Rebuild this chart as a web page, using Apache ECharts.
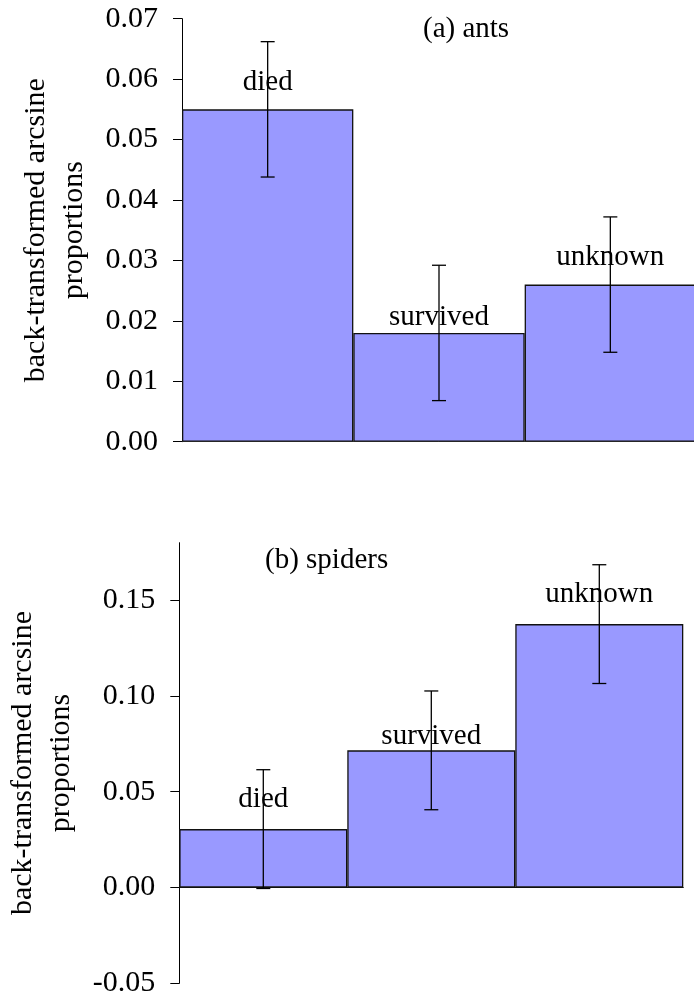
<!DOCTYPE html>
<html>
<head>
<meta charset="utf-8">
<style>
  html, body { margin: 0; padding: 0; background: #fff; }
  #chart { width: 694px; height: 1002px; }
</style>
<script src="https://cdn.jsdelivr.net/npm/echarts@6/dist/echarts.min.js"></script>
</head>
<body>
<div id="chart"></div>
<script>
// Fate categories shared by both panels
const categories = ['died', 'survived', 'unknown'];

// (a) ants: back-transformed arcsine proportions and error half-widths
const antsMeans = [0.055, 0.018, 0.026];
const antsErrors = [0.0112, 0.0112, 0.0112];

// (b) spiders
const spiderMeans = [0.0305, 0.0716, 0.1375];
const spiderErrors = [0.031, 0.031, 0.031];

// Tick values shown on each y axis
const antsTicks = [0, 0.01, 0.02, 0.03, 0.04, 0.05, 0.06, 0.07];
const spiderTicks = [-0.05, 0, 0.05, 0.10, 0.15];

const panelTitles = ['(a) ants', '(b) spiders'];
const yTitle = 'back-transformed arcsine\nproportions';

const FONT = '"Liberation Serif", "Times New Roman", Times, serif';
const BAR_FILL = '#9999ff';

// How far each category label sits above its bar, per panel
const labelLift = [[12, 1, 13], [15, -1, 15]];

function yAxisFor(gridIndex, min, max, interval, ticks, nameGap) {
  return {
    type: 'value',
    gridIndex,
    min, max, interval,
    name: yTitle,
    nameLocation: 'middle',
    nameRotate: 90,
    nameGap,
    nameTextStyle: { fontFamily: FONT, fontSize: 30, color: '#000', lineHeight: 38 },
    axisLine: { show: true, lineStyle: { color: '#000', width: 1 } },
    axisTick: { show: true, inside: false, length: 9, lineStyle: { color: '#000', width: 1 }, customValues: ticks },
    axisLabel: {
      fontFamily: FONT, fontSize: 30, color: '#000', margin: 24,
      customValues: ticks,
      formatter: v => v.toFixed(2)
    },
    splitLine: { show: false }
  };
}

function xAxisFor(gridIndex, lineColor) {
  return {
    type: 'category',
    gridIndex,
    data: categories,
    axisLine: { show: true, onZero: true, lineStyle: { color: lineColor, width: 1 } },
    axisTick: { show: false },
    axisLabel: { show: false },
    splitLine: { show: false }
  };
}

function barSeries(idx, means) {
  return {
    type: 'bar',
    xAxisIndex: idx,
    yAxisIndex: idx,
    barCategoryGap: '0%',
    z: 2,
    itemStyle: { color: BAR_FILL, borderColor: '#111', borderWidth: 1.3 },
    data: means.map((m, i) => ({
      value: m,
      label: {
        show: true,
        position: 'top',
        distance: labelLift[idx][i],
        formatter: categories[i],
        fontFamily: FONT,
        fontSize: 29,
        color: '#000'
      }
    }))
  };
}

function errorSeries(idx, means, errs) {
  return {
    type: 'custom',
    xAxisIndex: idx,
    yAxisIndex: idx,
    z: 10,
    silent: true,
    data: means.map((m, i) => [i, m - errs[i], m + errs[i]]),
    renderItem: function (params, api) {
      const lo = api.coord([api.value(0), api.value(1)]);
      const hi = api.coord([api.value(0), api.value(2)]);
      const cap = 7;
      const style = { stroke: '#000', lineWidth: 1.3, fill: null };
      return {
        type: 'group',
        children: [
          { type: 'line', shape: { x1: hi[0], y1: hi[1], x2: lo[0], y2: lo[1] }, style },
          { type: 'line', shape: { x1: hi[0] - cap, y1: hi[1], x2: hi[0] + cap, y2: hi[1] }, style },
          { type: 'line', shape: { x1: lo[0] - cap, y1: lo[1], x2: lo[0] + cap, y2: lo[1] }, style }
        ]
      };
    }
  };
}

const chart = echarts.init(document.getElementById('chart'), null, { renderer: 'canvas' });

const titleStyle = { fontFamily: FONT, fontSize: 29, fontWeight: 'normal', color: '#000' };

chart.setOption({
  backgroundColor: '#fff',
  animation: false,
  title: [
    { text: panelTitles[0], left: 423, top: 15, padding: 0, textStyle: titleStyle },
    { text: panelTitles[1], left: 265, top: 546, padding: 0, textStyle: titleStyle }
  ],
  grid: [
    { left: 182, top: 18.7, width: 514, height: 423, containLabel: false, outerBoundsMode: 'none' },
    { left: 179.3, top: 542.7, width: 504, height: 440.6, containLabel: false, outerBoundsMode: 'none' }
  ],
  xAxis: [xAxisFor(0, '#666'), xAxisFor(1, '#111')],
  yAxis: [
    yAxisFor(0, 0, 0.07, 0.01, antsTicks, 89),
    yAxisFor(1, -0.05, 0.18, 0.05, spiderTicks, 99)
  ],
  series: [
    barSeries(0, antsMeans),
    errorSeries(0, antsMeans, antsErrors),
    barSeries(1, spiderMeans),
    errorSeries(1, spiderMeans, spiderErrors)
  ]
});
</script>
</body>
</html>
